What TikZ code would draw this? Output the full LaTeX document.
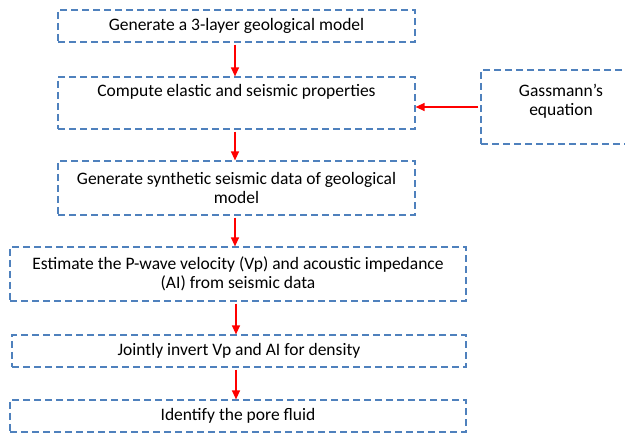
\documentclass[tikz,border=0pt]{standalone}
\usepackage{fontspec}
\setmainfont{Carlito}
\usetikzlibrary{arrows.meta,positioning}
\definecolor{boxblue}{RGB}{79,129,189}

\begin{document}
\begin{tikzpicture}[x=1pt, y=-1pt,
    stepbox/.style={draw=boxblue, line width=1.2pt, dash pattern=on 7pt off 4pt, align=center,
        font=\fontsize{17.5}{19}\selectfont, inner sep=0pt},
    arr/.style={-{Triangle[length=9pt,width=8pt]}, line width=1.3pt, red, shorten <=2pt}
]
\useasboundingbox (0,0) rectangle (625,433);
\node[stepbox, minimum width=357pt, minimum height=32pt] (model) at (236.5,26) {Generate a 3-layer geological model};
\node[stepbox, minimum width=357pt, minimum height=52pt] (props) at (236.5,103) {Compute elastic and seismic properties\\\strut};
\node[stepbox, minimum width=160pt, minimum height=74pt, text depth=14pt] (gass) at (561,107) {Gassmann's\\equation};
\node[stepbox, minimum width=357pt, minimum height=54pt] (synth) at (236.5,188) {Generate synthetic seismic data of geological\\model};
\node[stepbox, minimum width=456pt, minimum height=54pt] (est) at (238,274) {Estimate the P-wave velocity (Vp) and acoustic impedance\\(AI) from seismic data};
\node[stepbox, minimum width=454pt, minimum height=32pt] (inv) at (239,351) {Jointly invert Vp and AI for density};
\node[stepbox, minimum width=456pt, minimum height=32pt] (fluid) at (238,416) {Identify the pore fluid};

\draw[arr] (model.south -| 235,0) -- (props.north -| 235,0);
\draw[arr] (props.south -| 235,0) -- (synth.north -| 235,0);
\draw[arr] (synth.south -| 235,0) -- (est.north -| 235,0);
\draw[arr] (est.south -| 236,0) -- (inv.north -| 236,0);
\draw[arr] (inv.south -| 236,0) -- (fluid.north -| 236,0);
\draw[arr] (gass.west) -- (gass.west -| props.east);
\end{tikzpicture}
\end{document}
